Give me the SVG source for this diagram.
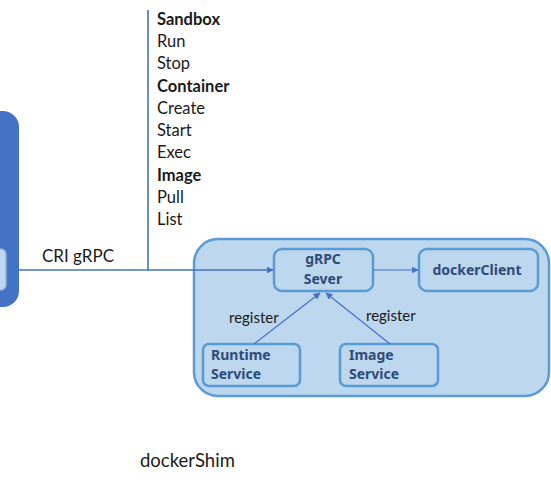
<svg xmlns="http://www.w3.org/2000/svg" width="551" height="483" viewBox="0 0 551 483">
<style>
.t{font-family:Lato,"Liberation Sans",sans-serif;font-size:16.5px;fill:#1a1a1a}
.b{font-weight:bold}
.n{font-family:"Noto Sans","Liberation Sans",sans-serif;font-size:14px;font-weight:bold;fill:#2F4B78}
.box{fill:#BDD7EE;stroke:#5B9BD5;stroke-width:2.5}
.ln{stroke:#4472C4;stroke-width:1.6;fill:none}
.ar{stroke:#4472C4;stroke-width:1.2;fill:none}
</style>
<defs>
<marker id="ah" viewBox="0 0 10 10" refX="9" refY="5" markerWidth="7" markerHeight="7" orient="auto" markerUnits="userSpaceOnUse">
<path d="M0,0 L10,5 L0,10 z" fill="#4472C4"/>
</marker>
</defs>
<rect width="551" height="483" fill="#ffffff"/>
<g id="cri-client">
<rect x="-30" y="111" width="49" height="196" rx="16" fill="#4472C4"/>
<rect x="-20" y="249" width="26" height="41" rx="5" fill="#BDD7EE" stroke="#8FB4E3" stroke-width="1.5"/>
</g>
<g id="api-list">
<text class="t b" x="157" y="25">Sandbox</text>
<text class="t" x="157" y="47">Run</text>
<text class="t" x="157" y="69">Stop</text>
<text class="t b" x="157" y="92">Container</text>
<text class="t" x="157" y="114">Create</text>
<text class="t" x="157" y="136">Start</text>
<text class="t" x="157" y="158">Exec</text>
<text class="t b" x="157" y="181">Image</text>
<text class="t" x="157" y="203">Pull</text>
<text class="t" x="157" y="225">List</text>
</g>
<g id="dockershim">
<rect class="box" x="194" y="239" width="355" height="157" rx="24"/>
</g>
<g id="grpc-server">
<rect class="box" x="274" y="249" width="99" height="42" rx="8"/>
<text class="n" x="323" y="264" text-anchor="middle">gRPC</text>
<text class="n" x="323" y="284" text-anchor="middle">Sever</text>
</g>
<g id="docker-client">
<rect class="box" x="419" y="249" width="119" height="42" rx="8"/>
<text class="n" x="477" y="275" text-anchor="middle">dockerClient</text>
</g>
<g id="runtime-service">
<rect class="box" x="203" y="344" width="97" height="42" rx="6"/>
<text class="n" x="211" y="360">Runtime</text>
<text class="n" x="211" y="379">Service</text>
</g>
<g id="image-service">
<rect class="box" x="340" y="344" width="98" height="42" rx="6"/>
<text class="n" x="349" y="360">Image</text>
<text class="n" x="349" y="379">Service</text>
</g>
<g id="connectors">
<line class="ln" x1="148" y1="10" x2="148" y2="270"/>
<line class="ln" x1="19" y1="270" x2="273" y2="270" marker-end="url(#ah)"/>
<line class="ar" x1="373" y1="270" x2="418" y2="270" marker-end="url(#ah)"/>
<line class="ar" x1="254" y1="344" x2="320" y2="293" marker-end="url(#ah)"/>
<line class="ar" x1="390" y1="344" x2="326" y2="293" marker-end="url(#ah)"/>
</g>
<g id="labels">
<text class="t" x="42" y="262" style="font-size:17px">CRI gRPC</text>
<text class="t" x="229" y="323" style="font-size:15px">register</text>
<text class="t" x="366" y="321" style="font-size:15px">register</text>
<text class="t" x="140" y="467" style="font-size:18.5px">dockerShim</text>
</g>
</svg>
